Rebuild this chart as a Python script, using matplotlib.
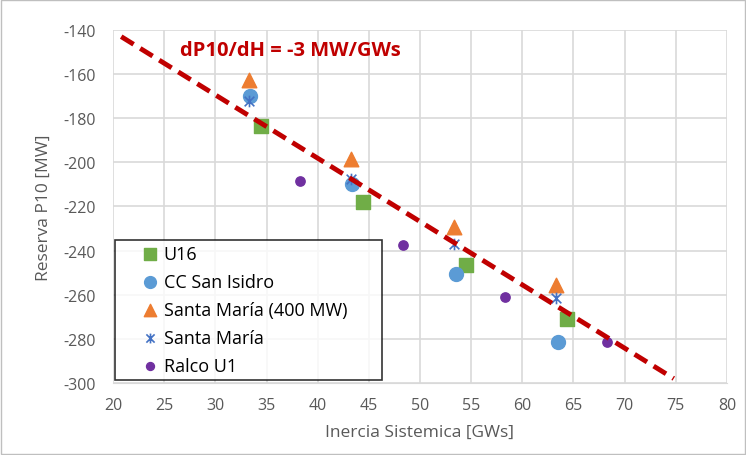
import matplotlib.pyplot as plt
from matplotlib.patches import Rectangle
from matplotlib.path import Path

plt.rcParams['font.family'] = ['Open Sans', 'DejaVu Sans']
plt.rcParams['axes.unicode_minus'] = False

u16_x = [34.5, 44.4, 54.5, 64.4]
u16_y = [-183.5, -218, -246.5, -271]
isidro_x = [33.4, 43.4, 53.5, 63.5]
isidro_y = [-170, -210, -250.5, -281.5]
sm400_x = [33.3, 43.3, 53.3, 63.3]
sm400_y = [-162.5, -198.5, -229.5, -255.5]
sm_x = [33.3, 43.3, 53.3, 63.3]
sm_y = [-172, -207.5, -237, -261.5]
ralco_x = [38.3, 48.3, 58.3, 68.3]
ralco_y = [-208.5, -237.5, -261, -281.5]
trend_x = [20.8, 74.8]
trend_y = [-143, -298]

# excel style star: x with a vertical bar
star = Path([(-1, -1), (1, 1), (-1, 1), (1, -1), (0, -1.2), (0, 1.2)],
            [Path.MOVETO, Path.LINETO, Path.MOVETO, Path.LINETO, Path.MOVETO, Path.LINETO])

fig = plt.figure(figsize=(7.46, 4.56), dpi=100)
ax = fig.add_axes([0.1515, 0.158, 0.823, 0.774])

ax.scatter(u16_x, u16_y, marker='s', s=100, color='#70ad47', label='U16', zorder=3)
ax.scatter(isidro_x, isidro_y, marker='o', s=100, color='#5b9bd5', label='CC San Isidro', zorder=3)
ax.scatter(sm400_x, sm400_y, marker='^', s=110, color='#ed7d31', label='Santa María (400 MW)', zorder=3)
ax.scatter(sm_x, sm_y, marker=star, s=70, color='#4472c4', linewidths=1.2, label='Santa María', zorder=3)
ax.scatter(ralco_x, ralco_y, marker='o', s=45, color='#7030a0', label='Ralco U1', zorder=3)
ax.plot(trend_x, trend_y, color='#c00000', lw=3.5, dashes=(3, 1.6), zorder=4)

ax.text(26.5, -149, 'dP10/dH = -3 MW/GWs', color='#c00000', fontsize=14.5, fontweight='bold',
        va='center', ha='left')

ax.set_xlim(20, 80)
ax.set_ylim(-300, -140)
ax.set_xticks(range(20, 81, 5))
ax.set_yticks(range(-300, -139, 20))
ax.grid(True, color='#d9d9d9', lw=1.2)
ax.set_axisbelow(True)
for s in ['top', 'right', 'left']:
    ax.spines[s].set_visible(False)
ax.spines['bottom'].set_color('#d9d9d9')
ax.tick_params(length=0, labelsize=11.5, labelcolor='#595959')
ax.tick_params(axis='y', pad=12)
ax.tick_params(axis='x', pad=10)
ax.set_xlabel('Inercia Sistemica [GWs]', fontsize=12.5, color='#595959', labelpad=8)
ax.set_ylabel('Reserva P10 [MW]', fontsize=12.5, color='#595959', labelpad=9)

leg = ax.legend(loc='lower left', bbox_to_anchor=(0.003, 0.008, 0.435, 0.2), mode='expand',
                frameon=True, fancybox=False, fontsize=13, handletextpad=-0.9,
                borderpad=0.3, labelspacing=0.55, handlelength=3.3, scatterpoints=1,
                markerscale=0.85, borderaxespad=0)
leg.get_frame().set_edgecolor('black')
leg.get_frame().set_linewidth(1.2)

fig.patches.append(Rectangle((0.002, 0.002), 0.996, 0.996, transform=fig.transFigure,
                             fill=False, edgecolor='#bfbfbf', lw=1))

fig.savefig('out.png', dpi=100)
